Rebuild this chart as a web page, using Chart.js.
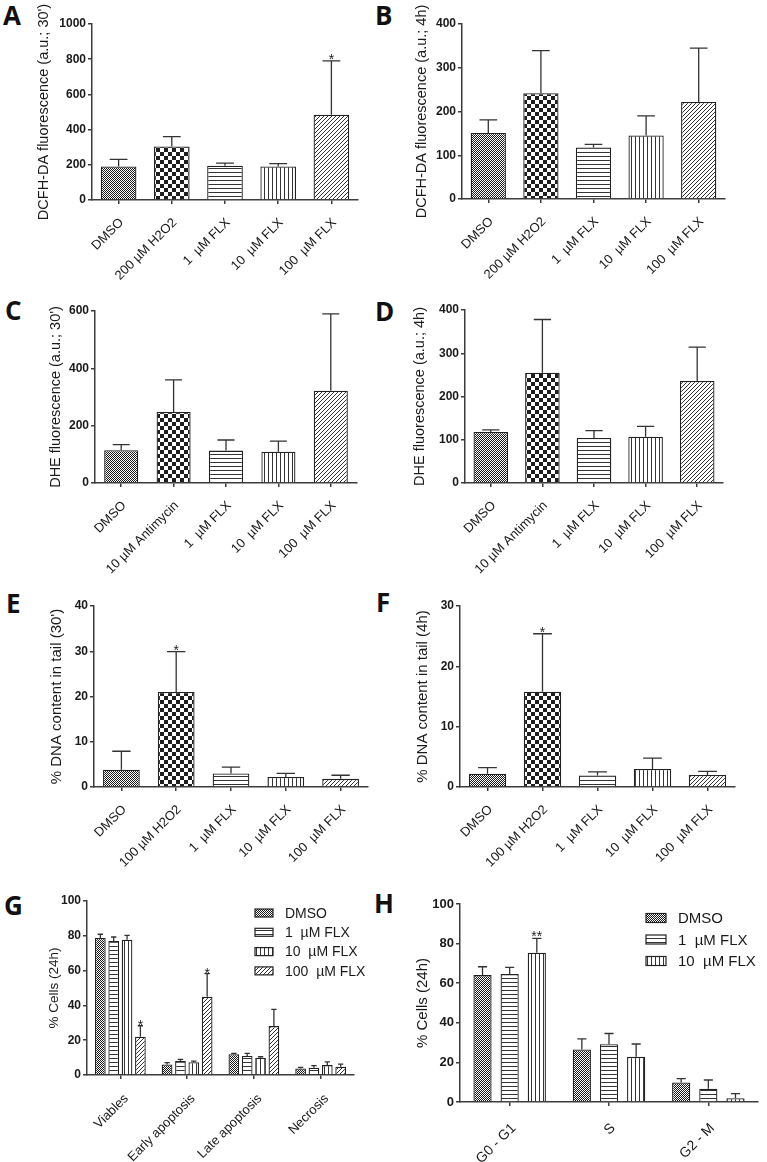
<!DOCTYPE html>
<html><head><meta charset="utf-8">
<script src="https://cdn.jsdelivr.net/npm/chart.js@4.4.1/dist/chart.umd.min.js"></script>
<style>
html,body{margin:0;padding:0;background:#fff;}
#wrap{position:relative;width:767px;height:1162px;overflow:hidden;background:#fff}
canvas{position:absolute}
.lab{position:absolute;font-family:"Open Sans",sans-serif;font-weight:700;font-size:26px;line-height:1;color:#111}
</style></head><body>
<div id="wrap">
<div class="lab" style="left:3px;top:2px">A</div>
<div class="lab" style="left:375px;top:2px">B</div>
<div class="lab" style="left:5px;top:297px">C</div>
<div class="lab" style="left:375px;top:298px">D</div>
<div class="lab" style="left:6px;top:590px">E</div>
<div class="lab" style="left:376px;top:589px">F</div>
<div class="lab" style="left:4px;top:892px">G</div>
<div class="lab" style="left:374px;top:890px">H</div>
<canvas id="cA" width="383" height="290" style="left:0;top:0"></canvas>
<canvas id="cB" width="384" height="290" style="left:383px;top:0"></canvas>
<canvas id="cC" width="383" height="290" style="left:0;top:290px"></canvas>
<canvas id="cD" width="384" height="290" style="left:383px;top:290px"></canvas>
<canvas id="cE" width="383" height="290" style="left:0;top:580px"></canvas>
<canvas id="cF" width="384" height="290" style="left:383px;top:580px"></canvas>
<canvas id="cG" width="383" height="292" style="left:0;top:870px"></canvas>
<canvas id="cH" width="384" height="292" style="left:383px;top:870px"></canvas>
</div>
<script>
// ---------------- DATA ----------------
const catsA = ['DMSO', '200 µM H2O2', '1  µM FLX', '10  µM FLX', '100  µM FLX'];
const meanA = [190, 304, 195, 190, 484];
const semA  = [41, 56, 14, 17, 307];
const sigA  = ['', '', '', '', '*'];
const ticksA = [0, 200, 400, 600, 800, 1000];

const catsB = ['DMSO', '200 µM H2O2', '1  µM FLX', '10  µM FLX', '100  µM FLX'];
const meanB = [151, 242, 118, 145, 222];
const semB  = [30, 97, 7, 45, 123];
const ticksB = [0, 100, 200, 300, 400];

const catsC = ['DMSO', '10 µM Antimycin', '1  µM FLX', '10  µM FLX', '100  µM FLX'];
const meanC = [114, 248, 113, 109, 322];
const semC  = [20, 112, 37, 37, 268];
const ticksC = [0, 200, 400, 600];

const catsD = ['DMSO', '10 µM Antimycin', '1  µM FLX', '10  µM FLX', '100  µM FLX'];
const meanD = [118, 255, 104, 107, 236];
const semD  = [5, 123, 17, 24, 78];
const ticksD = [0, 100, 200, 300, 400];

const catsE = ['DMSO', '100 µM H2O2', '1  µM FLX', '10  µM FLX', '100  µM FLX'];
const meanE = [3.8, 21.0, 3.0, 2.2, 1.8];
const semE  = [4.1, 8.9, 1.4, 0.8, 0.8];
const sigE  = ['', '*', '', '', ''];
const ticksE = [0, 10, 20, 30, 40];

const catsF = ['DMSO', '100 µM H2O2', '1  µM FLX', '10  µM FLX', '100  µM FLX'];
const meanF = [2.2, 15.8, 1.9, 3.0, 2.0];
const semF  = [1.0, 9.6, 0.6, 1.8, 0.6];
const sigF  = ['', '*', '', '', ''];
const ticksF = [0, 10, 20, 30];

const catsG = ['Viables', 'Early apoptosis', 'Late apoptosis', 'Necrosis'];
const seriesG = ['DMSO', '1  µM FLX', '10  µM FLX', '100  µM FLX'];
const gDMSO = [78.8, 6.1, 11.9, 3.8];
const gDMSOe = [2.1, 1.0, 0.5, 0.6];
const gF1 = [77.0, 8.0, 10.9, 4.2];
const gF1e = [2.3, 1.0, 1.5, 1.2];
const gF10 = [77.8, 7.3, 9.9, 5.7];
const gF10e = [2.5, 0.7, 0.6, 1.9];
const gF100 = [22.0, 45.0, 28.1, 4.8];
const gF100e = [6.3, 13.3, 9.6, 1.5];
const gF100sig = ['*', '*', '', ''];
const ticksG = [0, 20, 40, 60, 80, 100];

const catsH = ['G0 - G1', 'S', 'G2 - M'];
const seriesH = ['DMSO', '1  µM FLX', '10  µM FLX'];
const hDMSO = [64.1, 26.5, 9.9];
const hDMSOe = [4.2, 5.4, 1.9];
const hF1 = [64.6, 29.2, 6.7];
const hF1e = [3.4, 5.4, 4.4];
const hF10 = [75.4, 22.8, 1.9];
const hF10e = [7.2, 6.5, 2.3];
const hF10sig = ['**', '', ''];
const ticksH = [0, 20, 40, 60, 80, 100];

// ---------------- STYLE ----------------
const TXT = '#1a1a1a', AX = '#3c3c3c';
const FAM = '"Liberation Sans", Arial, sans-serif';
Chart.defaults.font.family = FAM;
Chart.defaults.color = TXT;

function tile(size, draw) {
  const c = document.createElement('canvas');
  c.width = size; c.height = size;
  const x = c.getContext('2d');
  x.fillStyle = '#fff'; x.fillRect(0, 0, size, size);
  x.fillStyle = '#1e1e1e';
  draw(x, size);
  return x.createPattern(c, 'repeat');
}
const P = {
  fine: tile(2, (x) => { x.fillStyle = '#1a1a1a'; x.fillRect(0, 0, 1, 1); x.fillRect(1, 1, 1, 1); }),
  check: tile(8, (x) => { x.fillRect(0, 0, 4, 4); x.fillRect(4, 4, 4, 4); }),
  h: tile(4, (x) => { x.fillStyle = '#333'; x.fillRect(0, 0, 4, 1); }),
  v: tile(4, (x) => { x.fillStyle = '#333'; x.fillRect(0, 0, 1, 4); }),
  diag: tile(4, (x) => { x.fillStyle = '#333'; for (let i = 0; i < 4; i++) x.fillRect(i, 3 - i, 1, 1); })
};

const errPlugin = {
  id: 'errbars',
  afterDatasetsDraw(chart, args, o) {
    const ctx = chart.ctx, ys = chart.scales.y;
    chart.data.datasets.forEach((ds, i) => {
      const meta = chart.getDatasetMeta(i);
      meta.data.forEach((bar, j) => {
        const yt = ys.getPixelForValue(ds.data[j] + ds.err[j]);
        const x = bar.x, cw = bar.width * 0.25;
        ctx.save();
        ctx.strokeStyle = '#333'; ctx.lineWidth = 1.3;
        ctx.beginPath();
        ctx.moveTo(x, bar.y); ctx.lineTo(x, yt);
        ctx.moveTo(x - cw, yt); ctx.lineTo(x + cw, yt);
        ctx.stroke();
        if (ds.sig && ds.sig[j]) {
          ctx.fillStyle = TXT;
          ctx.font = '14px ' + FAM;
          ctx.textAlign = 'center'; ctx.textBaseline = 'alphabetic';
          ctx.fillText(ds.sig[j], x, yt + (o.sigOff || 3));
        }
        ctx.restore();
      });
    });
  }
};

const legPlugin = {
  id: 'leg',
  afterDraw(chart, args, o) {
    if (!o.show) return;
    const ctx = chart.ctx;
    chart.data.datasets.forEach((ds, i) => {
      const cy = o.y0 + i * o.dy;
      ctx.save();
      ctx.fillStyle = ds.backgroundColor;
      ctx.fillRect(o.x, cy - o.bh / 2, o.bw, o.bh);
      ctx.strokeStyle = '#222'; ctx.lineWidth = 1.2;
      ctx.strokeRect(o.x, cy - o.bh / 2, o.bw, o.bh);
      ctx.fillStyle = TXT;
      ctx.font = o.fs + 'px ' + FAM;
      ctx.textAlign = 'left'; ctx.textBaseline = 'middle';
      ctx.fillText(ds.label, o.tx, cy + 1);
      ctx.restore();
    });
  }
};

function make(id, L) {
  const cv = document.getElementById(id);
  const padL = L.tc - L.tfs * 0.6;
  const yW = L.areaL - padL;
  const xH = cv.height - L.areaB;
  return new Chart(cv, {
    type: 'bar',
    data: { labels: L.labels, datasets: L.datasets },
    plugins: [errPlugin, legPlugin],
    options: {
      responsive: false, animation: false, devicePixelRatio: 1,
      layout: { padding: { left: padL, top: L.areaT, right: cv.width - L.areaR, bottom: 0 } },
      datasets: { bar: { categoryPercentage: L.catPct, barPercentage: L.barPct, borderColor: '#222', borderWidth: 1.3 } },
      plugins: {
        legend: { display: false }, tooltip: { enabled: false },
        errbars: { sigOff: L.sigOff || 3 },
        leg: L.leg || { show: false }
      },
      scales: {
        x: {
          grid: { offset: false, drawOnChartArea: false, drawTicks: true, tickLength: 4, color: AX, lineWidth: 1.5 },
          border: { display: true, color: AX, width: 1.5 },
          ticks: { autoSkip: false, minRotation: 45, maxRotation: 45, padding: L.xpad || 11, labelOffset: L.xoff || 3,
                   font: { size: L.xfs }, color: TXT },
          afterFit: (s) => { s.height = xH; }
        },
        y: {
          min: 0, max: L.yticks[L.yticks.length - 1],
          afterBuildTicks: (s) => { s.ticks = L.yticks.map(v => ({ value: v })); },
          grid: { drawOnChartArea: false, drawTicks: true, tickLength: 4, color: AX, lineWidth: 1.5 },
          border: { display: true, color: AX, width: 1.5 },
          ticks: { padding: 2, font: { family: FAM, size: L.yfs, weight: 'bold' }, color: TXT, callback: (v) => String(v) },
          title: { display: true, text: L.title, font: { size: L.tfs }, color: TXT, padding: 0 },
          afterFit: (s) => { s.width = yW; }
        }
      }
    }
  });
}

const five = [P.fine, P.check, P.h, P.v, P.diag];

make('cA', { labels: catsA, datasets: [{ data: meanA, err: semA, sig: sigA, backgroundColor: five }],
  yticks: ticksA, title: "DCFH-DA fluorescence (a.u.; 30')", tfs: 14.5, tc: 44, areaL: 92, areaT: 24, areaR: 358, areaB: 200,
  xfs: 13, yfs: 12, catPct: 1, barPct: 0.67 });
make('cB', { labels: catsB, datasets: [{ data: meanB, err: semB, backgroundColor: five }],
  yticks: ticksB, title: "DCFH-DA fluorescence (a.u.; 4h)", tfs: 14.5, tc: 39, areaL: 79, areaT: 24, areaR: 342, areaB: 199,
  xfs: 13, yfs: 12, catPct: 1, barPct: 0.67 });
make('cC', { labels: catsC, datasets: [{ data: meanC, err: semC, backgroundColor: five }],
  yticks: ticksC, title: "DHE fluorescence (a.u.; 30')", tfs: 14.5, tc: 56, areaL: 95, areaT: 21, areaR: 357, areaB: 193,
  xfs: 13, yfs: 12, catPct: 1, barPct: 0.65 });
make('cD', { labels: catsD, datasets: [{ data: meanD, err: semD, backgroundColor: five }],
  yticks: ticksD, title: "DHE fluorescence (a.u.; 4h)", tfs: 14.5, tc: 37, areaL: 82, areaT: 20, areaR: 340, areaB: 193,
  xfs: 13, yfs: 12, catPct: 1, barPct: 0.67 });
make('cE', { labels: catsE, datasets: [{ data: meanE, err: semE, sig: sigE, backgroundColor: five }],
  yticks: ticksE, title: "% DNA content in tail (30')", tfs: 15, tc: 57, areaL: 94, areaT: 26, areaR: 368, areaB: 207,
  xfs: 13, yfs: 12, catPct: 1, barPct: 0.67 });
make('cF', { labels: catsF, datasets: [{ data: meanF, err: semF, sig: sigF, backgroundColor: five }],
  yticks: ticksF, title: "% DNA content in tail (4h)", tfs: 15, tc: 40, areaL: 77, areaT: 26, areaR: 352, areaB: 207,
  xfs: 13, yfs: 12, catPct: 1, barPct: 0.68 });
make('cG', { labels: catsG, datasets: [
    { label: seriesG[0], data: gDMSO, err: gDMSOe, backgroundColor: P.fine },
    { label: seriesG[1], data: gF1, err: gF1e, backgroundColor: P.h },
    { label: seriesG[2], data: gF10, err: gF10e, backgroundColor: P.v },
    { label: seriesG[3], data: gF100, err: gF100e, sig: gF100sig, backgroundColor: P.diag }],
  yticks: ticksG, title: "% Cells (24h)", tfs: 13.5, tc: 54, areaL: 87, areaT: 31, areaR: 354, areaB: 205,
  xfs: 13, yfs: 12, catPct: 0.8, barPct: 0.8, sigOff: 4, xpad: 12, xoff: 6,
  leg: { show: true, x: 255, y0: 43, dy: 19.3, bw: 18, bh: 8, tx: 285, fs: 14 } });
make('cH', { labels: catsH, datasets: [
    { label: seriesH[0], data: hDMSO, err: hDMSOe, backgroundColor: P.fine },
    { label: seriesH[1], data: hF1, err: hF1e, backgroundColor: P.h },
    { label: seriesH[2], data: hF10, err: hF10e, sig: hF10sig, backgroundColor: P.v }],
  yticks: ticksH, title: "% Cells (24h)", tfs: 15, tc: 40, areaL: 77, areaT: 34, areaR: 375, areaB: 232,
  xfs: 14, yfs: 13, catPct: 0.82, barPct: 0.67, sigOff: 3, xpad: 14, xoff: 4,
  leg: { show: true, x: 263, y0: 48, dy: 21.5, bw: 20, bh: 9, tx: 295, fs: 15 } });
</script>
</body></html>
